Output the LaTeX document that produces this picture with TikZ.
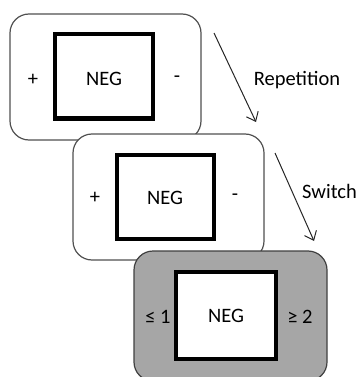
\documentclass[tikz,border=0pt]{standalone}
\usepackage{fontspec}
\setmainfont{Carlito}
\usetikzlibrary{arrows.meta}
\definecolor{cardline}{HTML}{505050}
\definecolor{cardfill}{HTML}{A6A6A6}
\tikzset{
  card/.style={draw=cardline, line width=1.2pt, rounded corners=19pt, fill=white,
    minimum width=191pt, minimum height=126pt, inner sep=0pt, outer sep=0pt},
  shadedcard/.style={card, fill=cardfill, draw=black!75, minimum width=193pt, minimum height=130pt},
  screen/.style={draw=black, line width=4pt, fill=white, inner sep=0pt,
    minimum width=98pt, minimum height=84pt},
  txt/.style={font=\fontsize{20.5}{24}\selectfont, inner sep=0pt},
  flow/.style={draw=black!85, line width=1pt, -{Straight Barb[length=8pt,width=13pt,line width=1pt]}}
}
\begin{document}
\begin{tikzpicture}[x=1pt,y=-1pt]
  \useasboundingbox (0,0) rectangle (361,377);
  \begin{scope}
  \clip (0,0) rectangle (361,377);
  % first trial
  \node[card] (c1) at (105.5,77) {};
  \node[screen] (s1) at (104,76.5) {};
  \node[txt] (t1) at (104,79) {NEG};
  \node[txt] (p1) at (33,80) {+};
  \node[txt] (m1) at (177,79) {-};
  % second trial
  \node[card] (c2) at (168.5,197) {};
  \node[screen, minimum width=97pt] (s2) at (165.5,197) {};
  \node[txt] (t2) at (165,198) {NEG};
  \node[txt] (p2) at (95,198) {+};
  \node[txt] (m2) at (235,197) {-};
  % third trial
  \node[shadedcard] (c3) at (230.5,316) {};
  \node[screen, minimum width=100pt, minimum height=87pt] (s3) at (226,315.5) {};
  \node[txt] (t3) at (226,316) {NEG};
  \node[txt] (l3) at (158,317) {≤ 1};
  \node[txt] (g3) at (300,317) {≥ 2};
  \end{scope}
  % transitions
  \coordinate (a1s) at (214,33);
  \coordinate (a1e) at (256,122);
  \coordinate (a2s) at (275,153);
  \coordinate (a2e) at (314,241);
  \draw[flow] (a1s) -- (a1e);
  \draw[flow] (a2s) -- (a2e);
  \node[txt] (rep) at (297,80) {Repetition};
  \node[txt, anchor=west] (sw) at (302,191) {Switch};
\end{tikzpicture}
\end{document}
